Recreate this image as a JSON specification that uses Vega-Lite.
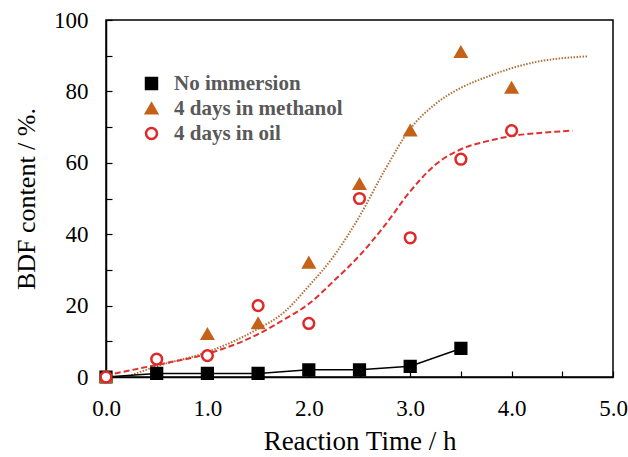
{
  "$schema": "https://vega.github.io/schema/vega-lite/v6.json",
  "width": 507,
  "height": 357,
  "autosize": {"type": "none"},
  "padding": {"left": 106, "top": 20, "right": 15, "bottom": 80},
  "background": "white",
  "config": {
    "view": {"stroke": "black", "strokeWidth": 1.5},
    "axis": {
      "grid": false,
      "domainColor": "black",
      "domainWidth": 1.5,
      "tickColor": "black",
      "tickWidth": 1.2,
      "tickSize": -6,
      "labelFlush": false,
      "labelFont": "Liberation Serif",
      "labelFontSize": 23,
      "labelColor": "black",
      "titleFont": "Liberation Serif",
      "titleFontSize": 26,
      "titleFontWeight": "normal",
      "titleColor": "black"
    }
  },
  "datasets": {
    "obs": [
      {"series": "No immersion", "time": 0, "bdf": 0},
      {"series": "No immersion", "time": 0.5, "bdf": 1},
      {"series": "No immersion", "time": 1.0, "bdf": 1},
      {"series": "No immersion", "time": 1.5, "bdf": 1},
      {"series": "No immersion", "time": 2.0, "bdf": 2},
      {"series": "No immersion", "time": 2.5, "bdf": 2},
      {"series": "No immersion", "time": 3.0, "bdf": 3},
      {"series": "No immersion", "time": 3.5, "bdf": 8},
      {"series": "4 days in methanol", "time": 0, "bdf": 0},
      {"series": "4 days in methanol", "time": 1.0, "bdf": 12},
      {"series": "4 days in methanol", "time": 1.5, "bdf": 15},
      {"series": "4 days in methanol", "time": 2.0, "bdf": 32},
      {"series": "4 days in methanol", "time": 2.5, "bdf": 54},
      {"series": "4 days in methanol", "time": 3.0, "bdf": 69},
      {"series": "4 days in methanol", "time": 3.5, "bdf": 91},
      {"series": "4 days in methanol", "time": 4.0, "bdf": 81},
      {"series": "4 days in oil", "time": 0, "bdf": 0},
      {"series": "4 days in oil", "time": 0.5, "bdf": 5},
      {"series": "4 days in oil", "time": 1.0, "bdf": 6},
      {"series": "4 days in oil", "time": 1.5, "bdf": 20},
      {"series": "4 days in oil", "time": 2.0, "bdf": 15},
      {"series": "4 days in oil", "time": 2.5, "bdf": 50},
      {"series": "4 days in oil", "time": 3.0, "bdf": 39},
      {"series": "4 days in oil", "time": 3.5, "bdf": 61},
      {"series": "4 days in oil", "time": 4.0, "bdf": 69}
    ],
    "fitMethanol": [
      {"time": 0.25, "bdf": 0.5},
      {"time": 0.5, "bdf": 3},
      {"time": 1.0, "bdf": 7},
      {"time": 1.5, "bdf": 13.5},
      {"time": 1.75, "bdf": 18},
      {"time": 2.0, "bdf": 25.5},
      {"time": 2.25, "bdf": 34},
      {"time": 2.5, "bdf": 45},
      {"time": 2.75, "bdf": 58},
      {"time": 3.0, "bdf": 69.5},
      {"time": 3.25, "bdf": 76.5},
      {"time": 3.5, "bdf": 81},
      {"time": 3.75, "bdf": 84},
      {"time": 4.0, "bdf": 86.5},
      {"time": 4.25, "bdf": 88.3},
      {"time": 4.5, "bdf": 89.3},
      {"time": 4.75, "bdf": 89.8}
    ],
    "fitOil": [
      {"time": 0, "bdf": 0.5},
      {"time": 0.5, "bdf": 3.4},
      {"time": 1.0, "bdf": 6.5},
      {"time": 1.5, "bdf": 12},
      {"time": 1.75, "bdf": 16},
      {"time": 2.0, "bdf": 20.5},
      {"time": 2.25, "bdf": 27},
      {"time": 2.5, "bdf": 34},
      {"time": 2.75, "bdf": 42.5},
      {"time": 3.0, "bdf": 52},
      {"time": 3.25, "bdf": 59.5},
      {"time": 3.5, "bdf": 63.8},
      {"time": 3.75, "bdf": 66},
      {"time": 4.0, "bdf": 67.5},
      {"time": 4.25, "bdf": 68.3},
      {"time": 4.6, "bdf": 69}
    ]
  },
  "encoding": {
    "x": {
      "field": "time", "type": "quantitative",
      "scale": {"domain": [0, 5], "nice": false, "zero": false},
      "axis": {
        "title": "Reaction Time / h",
        "titleFontSize": 27,
        "values": [0, 0.5, 1, 1.5, 2, 2.5, 3, 3.5, 4, 4.5, 5],
        "labelExpr": "datum.value % 1 === 0 ? format(datum.value, '.1f') : ''",
        "labelPadding": 26,
        "titlePadding": 8
      }
    },
    "y": {
      "field": "bdf", "type": "quantitative",
      "scale": {"domain": [0, 100], "nice": false},
      "axis": {
        "title": "BDF content / %.",
        "values": [0, 10, 20, 30, 40, 50, 60, 70, 80, 90, 100],
        "labelExpr": "datum.value % 20 === 0 ? datum.label : ''",
        "labelPadding": 24,
        "titlePadding": 14
      }
    }
  },
  "layer": [
    {
      "data": {"name": "fitMethanol"},
      "mark": {"type": "line", "color": "#B07038", "strokeWidth": 2, "strokeDash": [1.5, 1.5], "interpolate": "monotone"}
    },
    {
      "data": {"name": "fitOil"},
      "mark": {"type": "line", "color": "#E03030", "strokeWidth": 2, "strokeDash": [6, 3], "interpolate": "monotone"}
    },
    {
      "data": {"name": "obs"},
      "transform": [{"filter": "datum.series === 'No immersion'"}],
      "mark": {"type": "line", "color": "black", "strokeWidth": 1.5}
    },
    {
      "data": {"name": "obs"},
      "mark": {"type": "point", "opacity": 1, "strokeWidth": 2.5, "size": 115},
      "encoding": {
        "shape": {
          "field": "series", "type": "nominal",
          "scale": {"domain": ["No immersion", "4 days in methanol", "4 days in oil"], "range": ["square", "triangle-up", "circle"]},
          "legend": {
            "title": null,
            "orient": "none",
            "legendX": 35,
            "legendY": 53,
            "padding": 0,
            "rowPadding": 3,
            "labelFont": "Liberation Serif",
            "labelFontWeight": "bold",
            "labelFontSize": 21,
            "labelColor": "#595959",
            "labelLimit": 400,
            "labelOffset": 12,
            "symbolSize": 120,
            "symbolStrokeWidth": 2.5
          }
        },
        "fill": {
          "field": "series", "type": "nominal",
          "scale": {"domain": ["No immersion", "4 days in methanol", "4 days in oil"], "range": ["black", "#C4621A", "white"]}
        },
        "stroke": {
          "field": "series", "type": "nominal",
          "scale": {"domain": ["No immersion", "4 days in methanol", "4 days in oil"], "range": ["black", "#C4621A", "#E02828"]}
        }
      }
    }
  ]
}
